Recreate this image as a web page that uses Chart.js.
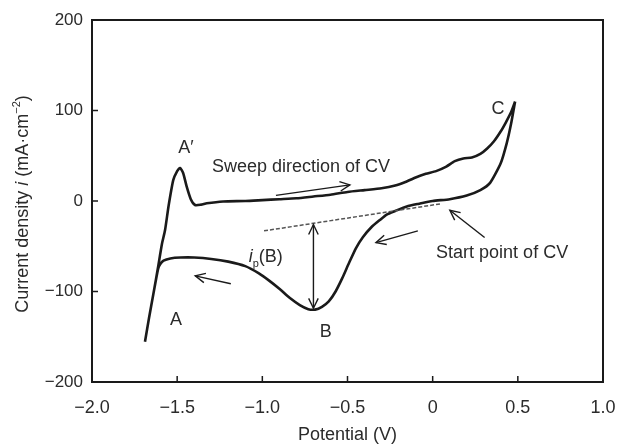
<!DOCTYPE html>
<html>
<head>
<meta charset="utf-8">
<script src="https://cdn.jsdelivr.net/npm/chart.js@4"></script>
<style>
  html, body { margin: 0; padding: 0; background: #fff; }
  #wrap { width: 627px; height: 446px; }
</style>
</head>
<body>
<div id="wrap"><canvas id="cv"></canvas></div>
<script>
// CV loop, starting at C and following the sweep (V, mA/cm2)
const potential = [
  0.484, 0.46, 0.435, 0.40, 0.337, 0.28, 0.20, 0.10, 0.0, -0.08, -0.152, -0.22, -0.27, -0.31,
  -0.36, -0.41, -0.45, -0.49, -0.53, -0.57, -0.61, -0.65, -0.69, -0.73, -0.78, -0.84, -0.90,
  -0.96, -1.02, -1.10, -1.20, -1.30, -1.40, -1.48, -1.54, -1.58, -1.60, -1.612, -1.64, -1.665,
  -1.689,
  -1.665, -1.64, -1.612, -1.59, -1.571, -1.55, -1.523, -1.50, -1.483, -1.465, -1.444, -1.42,
  -1.395, -1.36, -1.326, -1.23, -1.10, -1.0, -0.9, -0.8, -0.7, -0.6, -0.5, -0.4, -0.3, -0.22,
  -0.16, -0.10, -0.04, 0.02, 0.08, 0.13, 0.18, 0.23, 0.28, 0.32, 0.36, 0.40, 0.43, 0.46, 0.484
];
const current = [
  110, 85, 64, 42, 20, 12, 6, 2, 0, -3, -6, -11, -15, -21,
  -29, -40, -52, -68, -85, -100, -111, -117, -120, -119.5, -115, -107, -97,
  -88, -80, -72, -67, -64, -62.5, -62.5, -63.5, -66, -70, -75, -103, -129,
  -155.5,
  -129, -103, -73, -48, -32, -5, 23, 33, 36.5, 31, 15.8, 2,
  -4.4, -4, -2.5, -0.5, 0, 1, 2, 3, 5, 7, 10, 12, 14, 17,
  21, 26, 30, 33, 38, 44, 47, 48, 52, 58, 66, 77, 87, 98, 110
];

const xTicks = [-2.0, -1.5, -1.0, -0.5, 0, 0.5, 1.0];
const yTicks = [-200, -100, 0, 100, 200];

// labels and arrows in data coordinates
const pointLabels = [
  { text: 'A\u2032', x: -1.448, y: 58 },
  { text: 'A', x: -1.507, y: -132 },
  { text: 'B', x: -0.627, y: -145 },
  { text: 'C', x: 0.383, y: 102 }
];
const leftLabels = [
  { text: 'Sweep direction of CV', x: -1.296, y: 38 },
  { text: 'Start point of CV', x: 0.02, y: -57 }
];
const arrows = [
  { from: [-0.92, 6.2], to: [-0.486, 17.8] },
  { from: [-0.087, -33], to: [-0.333, -46] },
  { from: [-1.185, -91.4], to: [-1.394, -82.7] },
  { from: [0.305, -40.4], to: [0.101, -10.2] }
];
const baseline = [[-0.99, -33], [0.054, -2.9]];
const peakArrow = { x: -0.70, top: -26, bottom: -118.5 };

const FONT = '"Liberation Sans", Arial, Helvetica, sans-serif';
const INK = '#1a1a1a';
const TXT = '#2b2b2b';

function fmt(v, digits) {
  if (v === 0) return '0';
  return v.toFixed(digits).replace('-', '\u2212');
}

function head(ctx, x1, y1, x2, y2, len) {
  const ang = Math.atan2(y2 - y1, x2 - x1);
  const s = 0.45;
  ctx.beginPath();
  ctx.moveTo(x2 - len * Math.cos(ang - s), y2 - len * Math.sin(ang - s));
  ctx.lineTo(x2, y2);
  ctx.lineTo(x2 - len * Math.cos(ang + s), y2 - len * Math.sin(ang + s));
  ctx.stroke();
}

const cvNotes = {
  id: 'cvNotes',
  afterDraw(chart) {
    const { ctx, chartArea: a, scales } = chart;
    const px = v => scales.x.getPixelForValue(v);
    const py = v => scales.y.getPixelForValue(v);
    ctx.save();

    // frame and inward ticks
    ctx.strokeStyle = INK;
    ctx.lineWidth = 2;
    ctx.strokeRect(a.left, a.top, a.right - a.left, a.bottom - a.top);
    ctx.lineWidth = 1.5;
    ctx.beginPath();
    xTicks.forEach(t => { const X = px(t); ctx.moveTo(X, a.bottom); ctx.lineTo(X, a.bottom - 6); });
    yTicks.forEach(t => { const Y = py(t); ctx.moveTo(a.left, Y); ctx.lineTo(a.left + 6, Y); });
    ctx.stroke();

    // dashed baseline for ip(B)
    ctx.strokeStyle = '#555';
    ctx.lineWidth = 1.5;
    ctx.setLineDash([4, 2]);
    ctx.beginPath();
    ctx.moveTo(px(baseline[0][0]), py(baseline[0][1]));
    ctx.lineTo(px(baseline[1][0]), py(baseline[1][1]));
    ctx.stroke();
    ctx.setLineDash([]);

    // arrows
    ctx.strokeStyle = INK;
    ctx.lineWidth = 1.4;
    arrows.forEach(ar => {
      const x1 = px(ar.from[0]), y1 = py(ar.from[1]), x2 = px(ar.to[0]), y2 = py(ar.to[1]);
      ctx.beginPath(); ctx.moveTo(x1, y1); ctx.lineTo(x2, y2); ctx.stroke();
      head(ctx, x1, y1, x2, y2, 11);
    });
    const ax = px(peakArrow.x), at = py(peakArrow.top), ab = py(peakArrow.bottom);
    ctx.beginPath(); ctx.moveTo(ax, at); ctx.lineTo(ax, ab); ctx.stroke();
    head(ctx, ax, ab, ax, at, 11);
    head(ctx, ax, at, ax, ab, 11);

    // text labels
    ctx.fillStyle = TXT;
    ctx.font = '18px ' + FONT;
    ctx.textBaseline = 'middle';
    ctx.textAlign = 'center';
    pointLabels.forEach(l => ctx.fillText(l.text, px(l.x), py(l.y)));
    ctx.textAlign = 'left';
    leftLabels.forEach(l => ctx.fillText(l.text, px(l.x), py(l.y)));

    // i_p(B)
    let ix = px(-1.08), iy = py(-62);
    ctx.font = 'italic 18px ' + FONT;
    ctx.fillText('i', ix, iy);
    ix += ctx.measureText('i').width;
    ctx.font = '11px ' + FONT;
    ctx.fillText('p', ix, iy + 7);
    ix += ctx.measureText('p').width;
    ctx.font = '18px ' + FONT;
    ctx.fillText('(B)', ix, iy);

    // y axis title with italic i and superscript
    const parts = [
      { t: 'Current density ', f: '18px ' + FONT, dy: 0 },
      { t: 'i', f: 'italic 18px ' + FONT, dy: 0 },
      { t: ' (mA\u00b7cm', f: '18px ' + FONT, dy: 0 },
      { t: '\u22122', f: '11px ' + FONT, dy: -6 },
      { t: ')', f: '18px ' + FONT, dy: 0 }
    ];
    let total = 0;
    parts.forEach(p => { ctx.font = p.f; p.w = ctx.measureText(p.t).width; total += p.w; });
    ctx.translate(23, 204);
    ctx.rotate(-Math.PI / 2);
    let cx = -total / 2;
    parts.forEach(p => { ctx.font = p.f; ctx.fillText(p.t, cx, p.dy); cx += p.w; });

    ctx.restore();
  }
};

const cvPoints = potential.map((v, i) => ({ x: v, y: current[i] }));

const cvConfig = {
  type: 'scatter',
  data: {
    datasets: [{
      data: cvPoints,
      showLine: true,
      borderColor: INK,
      borderWidth: 2.6,
      pointRadius: 0,
      tension: 0.2,
      fill: false
    }]
  },
  options: {
    responsive: true,
    maintainAspectRatio: false,
    animation: false,
    layout: { padding: { top: 20, right: 24, left: 0, bottom: 0 } },
    plugins: { legend: { display: false }, tooltip: { enabled: false } },
    scales: {
      x: {
        type: 'linear',
        min: -2, max: 1,
        grid: { display: false, drawTicks: false },
        border: { display: false },
        afterBuildTicks: s => { s.ticks = xTicks.map(v => ({ value: v })); },
        afterFit: s => { s.height = 64; s.paddingLeft = 0; s.paddingRight = 0; },
        ticks: {
          color: TXT, padding: 15,
          font: { family: FONT, size: 18 },
          callback: v => fmt(v, 1)
        },
        title: {
          display: true, text: 'Potential (V)', color: TXT,
          font: { family: FONT, size: 18 }, padding: { top: 0, bottom: 0 }
        }
      },
      y: {
        type: 'linear',
        min: -200, max: 200,
        grid: { display: false, drawTicks: false },
        border: { display: false },
        afterBuildTicks: s => { s.ticks = yTicks.map(v => ({ value: v })); },
        afterFit: s => { s.width = 92; },
        ticks: {
          color: TXT, padding: 9,
          font: { family: FONT, size: 17 },
          callback: v => fmt(v, 0)
        }
      }
    }
  },
  plugins: [cvNotes]
};

function renderChart() {
  const canvas = document.getElementById('cv');
  new Chart(canvas, cvConfig);
}

renderChart();
</script>
</body>
</html>
